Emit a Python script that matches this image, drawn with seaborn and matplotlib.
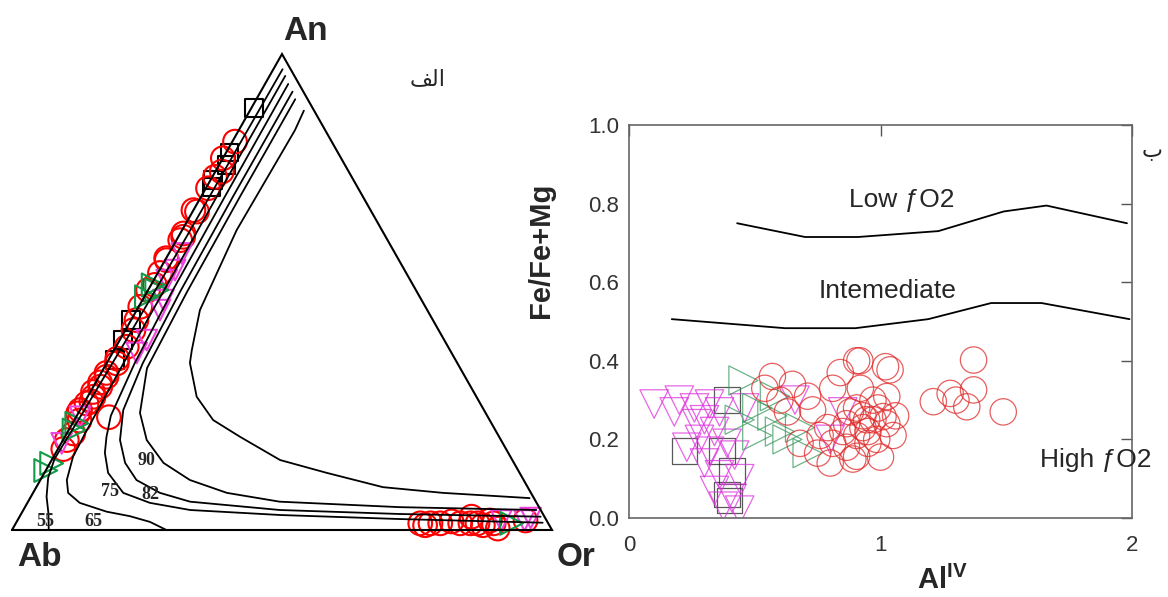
import numpy as np
import pandas as pd
import matplotlib
matplotlib.use("Agg")
import matplotlib.pyplot as plt
import seaborn as sns

sns.set_style("white")
plt.rcParams["font.family"] = ["Liberation Sans", "DejaVu Sans"]
plt.rcParams["mathtext.fontset"] = "custom"
plt.rcParams["mathtext.rm"] = "Liberation Sans"
plt.rcParams["mathtext.bf"] = "Liberation Sans:bold"

# ---------------- ternary An-Ab-Or : points as (An, Or) fractions ----------------
red_an = [0.816, 0.781, 0.753, 0.742, 0.718, 0.672, 0.669, 0.623, 0.616, 0.609, 0.571, 0.567,
          0.54, 0.515, 0.504, 0.469, 0.441, 0.42, 0.385, 0.36, 0.35, 0.33, 0.322, 0.31, 0.301,
          0.29, 0.28, 0.27, 0.266, 0.252, 0.245, 0.23, 0.203, 0.189, 0.17, 0.237,
          0.014, 0.010, 0.014, 0.014, 0.018, 0.014, 0.014, 0.028, 0.014, 0.010, 0.020, 0.014, 0.003, 0.020]
red_or = [0.005, 0.0, 0.012, 0.005, 0.004, 0.0, 0.008, 0.006, 0.009, 0.007, 0.0, 0.003,
          0.004, 0.007, 0.0, 0.003, 0.01, 0.015, 0.02, 0.015, 0.019, 0.01, 0.014, 0.008, 0.013,
          0.005, 0.011, 0.012, 0.005, 0.0, 0.0, 0.01, 0.012, 0.007, 0.01, 0.061,
          0.749, 0.760, 0.768, 0.786, 0.805, 0.823, 0.842, 0.837, 0.855, 0.867, 0.875, 0.885, 0.898, 0.941]

sq_an = [0.887, 0.793, 0.767, 0.735, 0.721, 0.441, 0.399, 0.357]
sq_or = [0.005, 0.006, 0.014, 0.005, 0.009, 0.0, 0.0065, 0.012]

grn_an = [0.515, 0.504, 0.49, 0.224, 0.21, 0.14, 0.125, 0.014]
grn_or = [0.004, 0.016, 0.004, 0.008, 0.01, 0.0035, 0.0, 0.918]

mag_an = [0.581, 0.546, 0.525, 0.483, 0.462, 0.399, 0.372, 0.238, 0.182, 0.020, 0.020, 0.025]
mag_or = [0.024, 0.029, 0.024, 0.039, 0.043, 0.05, 0.045, 0.007, 0.001, 0.896, 0.939, 0.948]

# isotherm curves (An, Or)
c55_an = [0.968, 0.80, 0.60, 0.40, 0.25, 0.15, 0.11, 0.07, 0.035, 0.0]
c55_or = [0.017, 0.016, 0.015, 0.012, 0.008, 0.004, 0.012, 0.029, 0.05, 0.068]
c65_an = [0.954, 0.70, 0.45, 0.30, 0.20, 0.154, 0.105, 0.078, 0.057, 0.0385, 0.029, 0.017, 0.0]
c65_or = [0.029, 0.029, 0.030, 0.032, 0.034, 0.036, 0.049, 0.065, 0.097, 0.156, 0.204, 0.247, 0.286]
c75_an = [0.937, 0.70, 0.50, 0.35, 0.24, 0.196, 0.162, 0.120, 0.078, 0.057, 0.042, 0.0315, 0.023, 0.0153]
c75_or = [0.043, 0.044, 0.046, 0.052, 0.063, 0.077, 0.091, 0.118, 0.167, 0.227, 0.309, 0.481, 0.707, 0.975]
c82_an = [0.921, 0.70, 0.50, 0.35, 0.252, 0.189, 0.141, 0.105, 0.078, 0.0595, 0.042, 0.0336, 0.028]
c82_or = [0.059, 0.059, 0.061, 0.067, 0.080, 0.1055, 0.139, 0.178, 0.235, 0.300, 0.475, 0.702, 0.965]
c90_an = [0.905, 0.70, 0.50, 0.34, 0.246, 0.189, 0.141, 0.105, 0.078, 0.0595, 0.048, 0.042]
c90_or = [0.072, 0.072, 0.074, 0.080, 0.114, 0.155, 0.21, 0.277, 0.359, 0.466, 0.694, 0.95]
cin_an = [0.881, 0.840, 0.630, 0.462, 0.378, 0.351, 0.280, 0.231, 0.196, 0.147, 0.120, 0.090, 0.078, 0.067]
cin_or = [0.100, 0.104, 0.101, 0.117, 0.144, 0.154, 0.202, 0.257, 0.324, 0.423, 0.523, 0.642, 0.759, 0.925]

# ---------------- Fe/(Fe+Mg) vs Al(IV) ----------------
r_al = [0.57, 0.65, 0.71, 0.63, 0.73, 0.81, 0.905, 1.02, 0.905, 0.97, 0.79, 0.865, 0.945, 1.025,
        0.81, 0.905, 0.985, 1.05, 0.80, 0.89, 1.00, 0.865, 0.75, 0.68, 0.84, 0.918, 1.038,
        1.21, 1.277, 1.37, 1.37, 1.343, 1.488, 1.025, 1.01, 0.905, 0.95, 1.30, 0.93,
        0.93, 0.97, 0.88, 0.95, 0.99, 0.85, 0.60, 0.54, 0.92, 1.06, 0.76]
r_fe = [0.36, 0.34, 0.31, 0.27, 0.275, 0.33, 0.40, 0.385, 0.28, 0.30, 0.23, 0.24, 0.25, 0.24,
        0.19, 0.21, 0.20, 0.21, 0.14, 0.15, 0.155, 0.18, 0.165, 0.19, 0.37, 0.40, 0.377,
        0.296, 0.317, 0.326, 0.402, 0.283, 0.27, 0.309, 0.258, 0.157, 0.22, 0.30, 0.26,
        0.23, 0.25, 0.27, 0.19, 0.28, 0.22, 0.30, 0.33, 0.33, 0.26, 0.21]
m_al = [0.10, 0.18, 0.26, 0.32, 0.27, 0.34, 0.23, 0.32, 0.42, 0.36, 0.44, 0.34, 0.41, 0.375,
        0.44, 0.20, 0.46, 0.66, 0.80, 0.85, 0.30, 0.36, 0.30, 0.39, 0.28]
m_fe = [0.29, 0.27, 0.28, 0.29, 0.24, 0.22, 0.18, 0.17, 0.16, 0.11, 0.10, 0.07, 0.05, 0.03,
        0.02, 0.30, 0.28, 0.30, 0.20, 0.27, 0.25, 0.27, 0.14, 0.19, 0.20]
s_al = [0.22, 0.37, 0.41, 0.39, 0.40, 0.39]
s_fe = [0.17, 0.17, 0.12, 0.06, 0.045, 0.30]
g_al = [0.455, 0.51, 0.57, 0.51, 0.63, 0.71, 0.60, 0.68, 0.44, 0.58]
g_fe = [0.35, 0.28, 0.26, 0.21, 0.20, 0.165, 0.22, 0.23, 0.25, 0.31]

low_al = [0.43, 0.70, 0.91, 1.23, 1.49, 1.66, 1.98]
low_fe = [0.75, 0.715, 0.715, 0.73, 0.78, 0.795, 0.75]
mid_al = [0.17, 0.62, 0.90, 1.19, 1.44, 1.64, 1.99]
mid_fe = [0.506, 0.483, 0.483, 0.506, 0.547, 0.547, 0.506]


def tern(an, orr):
    an = np.asarray(an, float)
    orr = np.asarray(orr, float)
    return orr + an / 2, an * np.sqrt(3) / 2


fig = plt.figure(figsize=(11.68, 5.97), dpi=100)

# left: ternary
axT = fig.add_axes([0, 0, 560 / 1168, 1])
axT.set_xlim(-12 / 540, 548 / 540)
axT.set_ylim(-67 / 549.6, 530 / 549.6)
axT.axis("off")
h = np.sqrt(3) / 2
axT.plot([0, 1, 0.5, 0], [0, 0, h, 0], color="k", lw=1.5, solid_joinstyle="miter")

for an, orr in [(c55_an, c55_or), (c65_an, c65_or), (c75_an, c75_or),
                (c82_an, c82_or), (c90_an, c90_or), (cin_an, cin_or)]:
    cx, cy = tern(an, orr)
    axT.plot(cx, cy, color="k", lw=1.3)

for an, orr, mk, col, sz in [(sq_an, sq_or, "s", "black", 160),
                             (red_an, red_or, "o", "red", 290),
                             (mag_an, mag_or, "v", "#ee44dd", 220),
                             (grn_an, grn_or, ">", "#139a48", 270)]:
    px, py = tern(an, orr)
    sns.scatterplot(x=px, y=py, ax=axT, marker=mk, s=sz, facecolors="none",
                    edgecolor=col, linewidth=1.5, legend=False, clip_on=False)

for lab, xx, yy in [("55", 0.061, 0.015), ("65", 0.150, 0.015), ("75", 0.181, 0.070),
                    ("82", 0.256, 0.064), ("90", 0.249, 0.127)]:
    axT.text(xx, yy, lab, ha="center", va="center", fontsize=13, fontweight="bold",
             family="Liberation Serif")

fig.text(305 / 1168, 1 - 31 / 597, "An", ha="center", va="center", fontsize=24, fontweight="bold")
fig.text(39 / 1168, 1 - 558 / 597, "Ab", ha="center", va="center", fontsize=24, fontweight="bold")
fig.text(576 / 1168, 1 - 558 / 597, "Or", ha="center", va="center", fontsize=24, fontweight="bold")
fig.text(428 / 1168, 1 - 80 / 597, "\ufed2\ufedf\ufe8d", ha="center", va="center", fontsize=16)
fig.text(1142 / 1168, 1 - 152 / 597, "\ufe8f", ha="left", va="center", fontsize=16)

# right: scatter
axR = fig.add_axes([629 / 1168, 79 / 597, 503 / 1168, 393 / 597])
for xs, ys, mk, col, sz in [(s_al, s_fe, "s", "#222222", 340),
                            (m_al, m_fe, "v", "#dd33dd", 420),
                            (g_al, g_fe, ">", "#3a9a60", 440),
                            (r_al, r_fe, "o", "#e02828", 360)]:
    sns.scatterplot(x=xs, y=ys, ax=axR, marker=mk, s=sz, facecolors="none",
                    edgecolor=col, linewidth=0.9, alpha=0.75, legend=False)

sns.lineplot(x=low_al, y=low_fe, ax=axR, sort=False, estimator=None, color="k", lw=1.3)
sns.lineplot(x=mid_al, y=mid_fe, ax=axR, sort=False, estimator=None, color="k", lw=1.3)

axR.text(1.086, 0.809, "Low \u0192O2", ha="center", va="center", fontsize=19)
axR.text(1.03, 0.578, "Intemediate", ha="center", va="center", fontsize=19)
axR.text(1.634, 0.148, "High \u0192O2", ha="left", va="center", fontsize=19, clip_on=False)

axR.set_xlim(0, 2)
axR.set_ylim(0, 1)
axR.set_xticks([0, 1, 2])
axR.set_xticklabels(["0", "1", "2"])
axR.set_yticks([0, 0.2, 0.4, 0.6, 0.8, 1.0])
axR.set_yticklabels(["0.0", "0.2", "0.4", "0.6", "0.8", "1.0"])
axR.tick_params(direction="in", length=8, width=1, color="#555555", labelcolor="#333333",
                labelsize=16, top=True, right=True)
axR.tick_params(axis="x", pad=12)
axR.tick_params(axis="y", pad=7)
for s in axR.spines.values():
    s.set_color("#666666")
    s.set_linewidth(1.2)

fig.text(541 / 1168, 1 - 250 / 597, "Fe/Fe+Mg", rotation=90, ha="center", va="center",
         fontsize=21, fontweight="bold")
fig.text(942 / 1168, 1 - 580 / 597, r"$\mathbf{Al}^{\mathbf{IV}}$", ha="center", va="center",
         fontsize=21)

fig.savefig("out.png", dpi=100)
